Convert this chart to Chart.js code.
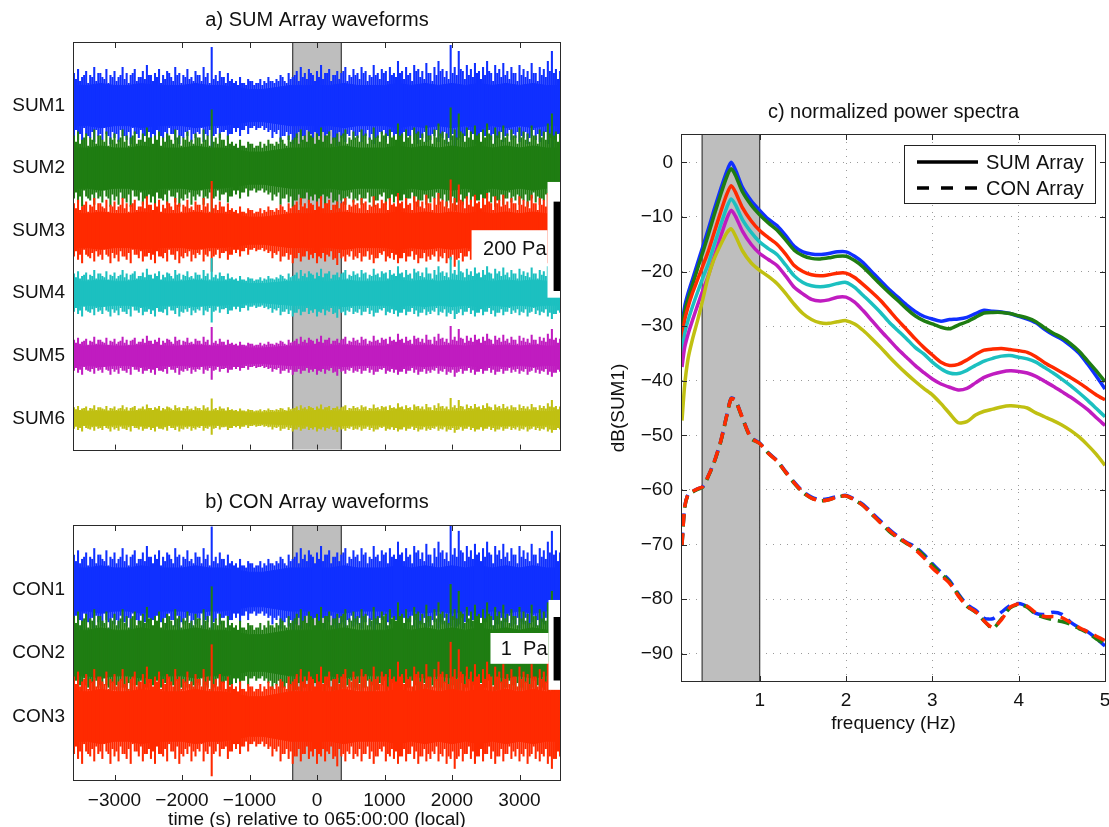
<!DOCTYPE html>
<html><head><meta charset="utf-8">
<script src="https://cdn.jsdelivr.net/npm/chart.js@4.4.0/dist/chart.umd.min.js"></script>
<style>
html,body{margin:0;padding:0;background:#fff;width:1109px;height:827px;overflow:hidden;}
canvas{position:absolute;display:block;}
#ca{left:0;top:0;} #cb{left:0;top:470px;} #cc{left:600px;top:90px;}
</style></head><body>
<canvas id="ca" width="575" height="470"></canvas>
<canvas id="cb" width="575" height="357"></canvas>
<canvas id="cc" width="509" height="655"></canvas>
<script>
// ---------------- DATA ----------------
const timeTicks = [-3000, -2000, -1000, 0, 1000, 2000, 3000];
const bandTime = [-360, 360];
const sumNames = ['SUM1', 'SUM2', 'SUM3', 'SUM4', 'SUM5', 'SUM6'];
const sumOffsets = [0, -140, -280, -420, -560, -700];      // Pa, trace baselines
const sumCoreAmp = [45, 45, 38, 27, 22, 15];               // Pa, half-width of dense band
const conNames = ['CON1', 'CON2', 'CON3'];
const conOffsets = [0, -1, -2];                            // Pa
const conCoreAmp = [0.34, 0.36, 0.39];                     // Pa
// envelope of the dense band (tenths of core amplitude), every 200 s from -3600 s
const coreTime = [-3600,-3400,-3200,-3000,-2800,-2600,-2400,-2200,-2000,-1800,-1600,-1400,-1200,-1000,-800,-600,-400,-200,0,200,400,600,800,1000,1200,1400,1600,1800,2000,2200,2400,2600,2800,3000,3200,3400,3600];
const coreShape = [10,10,11,10,10,11,10,10,10,11,10,10,9,8,8,9,10,10,10,10,11,10,10,10,11,10,11,10,11,10,11,10,11,10,11,10,10];
// peak excursions (tenths of core amplitude), every 60 s from -3600 s
const peakUp = [16,18,14,17,15,19,16,14,18,15, 17,14,19,16,15,18,14,17,20,15, 16,18,15,17,14,19,16,15,18,14,
  17,15,19,16,29,15,17,14,16,13, 12,14,11,13,12,11,13,12,14,12, 13,15,12,16,14,17,19,16,18,15,
  17,20,16,18,15,17,16,19,15,18, 16,19,17,15,20,16,18,17,19,16, 22,17,19,16,20,18,17,21,16,19,
  22,18,17,30,19,27,17,20,18,21, 17,19,22,16,20,18,21,17,19,16, 20,18,17,21,16,19,18,22,27,18,17];
const peakDown = [15,17,19,14,16,18,15,17,14,19, 16,18,15,17,19,14,16,18,15,17, 19,15,16,18,14,17,19,16,15,18,
  16,14,18,15,24,14,16,13,17,14, 13,15,12,14,11,12,11,12,13,16, 14,18,15,17,19,16,18,15,17,16,
  19,16,18,15,17,20,16,18,15,17, 16,18,15,17,19,16,14,18,16,17, 19,16,18,15,17,19,16,18,17,15,
  18,16,19,17,21,16,18,15,17,19, 16,18,15,17,19,16,18,15,17,16, 18,16,19,15,17,18,16,19,21,17,16];
// secondary (smaller) excursions, every 60 s from -3570 s
const peakUp2 = [13,12,15,11,14,12,16,13,11,14, 12,15,13,11,16,12,14,13,15,12, 14,11,13,16,12,15,11,14,13,12,
  15,12,14,11,13,12,14,11,12,11, 10,11,10,12,10,11,10,11,12,11, 12,14,11,13,15,12,14,13,16,12,
  14,13,16,12,15,13,17,12,14,15, 13,16,12,14,15,13,16,12,15,14, 16,13,15,12,17,14,13,16,12,15,
  17,14,13,16,15,18,13,15,14,16, 13,15,17,12,16,14,15,13,16,12, 15,14,13,16,12,15,14,17,16,13];
const peakDown2 = [12,14,11,15,13,12,14,11,15,13, 14,12,15,13,11,14,12,15,13,14, 12,15,13,11,14,12,15,13,12,14,
  13,11,14,12,15,11,13,12,14,11, 11,12,10,11,10,11,10,11,12,13, 12,15,13,14,16,13,15,12,14,13,
  15,13,14,12,16,13,15,14,12,15, 13,15,12,14,16,13,12,15,13,14, 16,13,15,12,14,16,13,15,14,12,
  15,13,16,14,17,13,15,12,14,16, 13,15,12,14,16,13,15,12,14,13, 15,13,16,12,14,15,13,16,17,14];
const peakTime = Array.from({length: peakUp.length}, (_, i) => -3600 + 60 * i);
const peakTime2 = Array.from({length: peakUp2.length}, (_, i) => -3570 + 60 * i);

// spectra
const freqTicks = [1, 2, 3, 4, 5];
const dbTicks = [-90, -80, -70, -60, -50, -40, -30, -20, -10, 0];
const bandFreq = [0.333, 1.0];
const freq = [0.1,0.13,0.17,0.22,0.28,0.34,0.4,0.47,0.55,0.62,0.67,0.72,0.8,0.9,1.0,1.1,1.2,1.3,1.4,1.5,1.6,1.7,1.8,1.9,2.0,2.1,2.2,2.3,2.4,2.5,2.6,2.7,2.8,2.9,3.0,3.1,3.2,3.3,3.4,3.5,3.6,3.7,3.8,3.9,4.0,4.1,4.2,4.3,4.4,4.5,4.6,4.7,4.8,4.9,5.0];
const sum1dB = [-30,-26.5,-24,-21.5,-18.5,-15.5,-12.5,-8.8,-4.8,-1.6,0,-1.4,-4.6,-7,-8.8,-10.4,-11.6,-13.4,-15.4,-16.4,-16.8,-16.9,-16.7,-16.4,-16.4,-17.2,-18.4,-20.1,-21.7,-23.3,-24.7,-26.1,-27.3,-28.2,-28.7,-29.1,-28.8,-28.7,-28.4,-27.7,-27.1,-27.3,-27.4,-27.7,-28.2,-28.7,-29.4,-30.6,-31.6,-32.4,-33.6,-35,-37,-39.2,-41.5];
const sum2dB = [-31,-27.5,-25,-22.5,-19.5,-16.5,-13.5,-9.8,-5.8,-2.6,-1.2,-2.4,-5.4,-7.8,-9.6,-11.1,-12.4,-14.2,-16.1,-17.1,-17.6,-17.7,-17.5,-17.2,-17.2,-18,-19.2,-20.8,-22.4,-23.9,-25.3,-26.8,-28.1,-29,-29.6,-30.2,-30.5,-29.8,-29.2,-28.4,-27.6,-27.5,-27.5,-27.7,-28.1,-28.5,-29.2,-30.3,-31.3,-32.1,-33.2,-34.6,-36.4,-38.2,-40.2];
const sum3dB = [-32.5,-29,-26.5,-24,-21.5,-19,-16.5,-13,-9,-5.8,-4.3,-5.5,-8.3,-10.7,-12.5,-13.8,-15,-16.8,-18.9,-20,-20.6,-20.8,-20.6,-20.3,-20.3,-21.1,-22.4,-23.8,-25.3,-27.1,-28.9,-30.6,-32.3,-33.9,-35.3,-36.6,-37.2,-37,-36.2,-35.2,-34.4,-34.2,-34.1,-34.3,-34.5,-34.8,-35.6,-36.7,-37.6,-38.5,-39.4,-40.4,-41.5,-42.6,-43.5];
const sum4dB = [-35,-31.5,-29,-26.5,-23.8,-21.2,-18.8,-15.3,-11.4,-8.2,-6.7,-7.8,-10.5,-12.8,-14.6,-15.8,-16.9,-18.8,-20.8,-22,-22.6,-22.8,-22.6,-22.2,-22,-22.9,-24.4,-25.9,-27.5,-29.3,-30.8,-32.3,-33.9,-35.1,-36.6,-37.8,-38.6,-38.7,-38.1,-37.2,-36.4,-35.9,-35.5,-35.4,-35.7,-36,-36.6,-37.6,-38.6,-39.7,-40.9,-42.2,-43.6,-45.1,-46.6];
const sum5dB = [-37.5,-34,-31.5,-29,-26.2,-23.5,-21,-17.5,-13.5,-10.3,-8.8,-9.9,-12.6,-15,-16.7,-17.8,-18.9,-20.8,-22.9,-24.1,-25.1,-25.4,-25.2,-24.7,-24.7,-25.6,-27.2,-29,-30.8,-32.5,-34.2,-35.7,-37.2,-38.5,-39.7,-40.6,-41.2,-41.7,-41.4,-40.4,-39.4,-38.8,-38.4,-38.2,-38.3,-38.6,-39.2,-40.1,-41,-42,-43,-44.1,-45.3,-46.8,-48.2];
const sum6dB = [-47.3,-41,-36,-32.5,-29,-25.2,-21.2,-17.8,-15,-12.9,-12.2,-13.5,-16.2,-18.4,-19.8,-20.9,-22.2,-24,-26,-27.7,-28.8,-29.4,-29.5,-29.2,-29,-29.6,-30.8,-32.3,-33.9,-35.6,-37.2,-38.7,-40.1,-41.4,-42.6,-44.2,-46,-47.7,-47.5,-46.3,-45.6,-45.2,-44.8,-44.6,-44.7,-45,-45.9,-46.6,-47.3,-48.1,-49.1,-50.3,-51.8,-53.5,-55.5];
const con1dB = [-70,-63.2,-60.8,-60.3,-59.8,-59.4,-57.6,-55,-51,-46.2,-43.2,-43.6,-46.8,-50.4,-51.4,-53.2,-54.6,-56.6,-58.6,-60.3,-61.3,-61.8,-61.6,-61.2,-61,-61.7,-62.7,-64.2,-65.7,-67.2,-68.5,-69.6,-70.4,-71.8,-73.5,-75.1,-76.6,-79,-81,-82,-83.5,-83.6,-82.4,-81.2,-80.8,-81.4,-82.6,-82.8,-82.4,-82.8,-84.2,-85.2,-86,-87.2,-88.6];
const con2dB = [-70.2,-63.4,-60.9,-60.4,-59.9,-59.5,-57.7,-55.1,-51.1,-46.3,-43.3,-43.7,-46.9,-50.6,-51.5,-53.3,-54.7,-56.8,-58.8,-60.5,-61.5,-62,-61.8,-61.3,-61.1,-61.9,-62.9,-64.5,-66,-67.6,-68.8,-69.8,-70.6,-72,-73.8,-75.3,-76.9,-79.2,-81.3,-82.4,-84,-85.4,-83.6,-81.6,-81,-81.5,-82.8,-83.4,-83.8,-84.1,-84.6,-85.4,-86.2,-87.3,-88.2];
const con3dB = [-70.1,-63.3,-60.8,-60.3,-59.8,-59.4,-57.6,-55,-51,-46.3,-43.3,-43.7,-46.8,-50.5,-51.5,-53.3,-54.7,-56.7,-58.7,-60.4,-61.5,-62,-61.8,-61.3,-61.1,-61.8,-62.9,-64.4,-66,-67.4,-68.7,-69.7,-70.9,-72.4,-74.3,-75.7,-77.1,-79.4,-81.3,-82.3,-84,-85.2,-83.8,-81.5,-80.9,-81.3,-82.5,-83.2,-83.2,-83.4,-84.3,-85.2,-86,-86.8,-87.6];

// ---------------- STYLE ----------------
const FONT = '"Liberation Sans", Arial, Helvetica, sans-serif';
Chart.defaults.font.family = FONT;
Chart.defaults.color = '#111';
Chart.defaults.animation = false;
const C = {blue:'#1030ff', green:'#1f7d12', red:'#ff2a00', cyan:'#1cc0c0', magenta:'#c01cc0', yellow:'#c0c012'};
const sumColors = [C.blue, C.green, C.red, C.cyan, C.magenta, C.yellow];
const conColors = [C.blue, C.green, C.red];
const minus = v => (v < 0 ? '\u2212' + Math.abs(v) : String(v));
const noSidePad = s => { s.paddingLeft = 0; s.paddingRight = 0; };

// plugin: shaded window, white boxes, scale bars, legend, MATLAB frame with inward ticks
const matlab = {
  id: 'matlab',
  beforeDatasetsDraw(chart, args, o) {
    if (!o.band) return;
    const {ctx, chartArea: a, scales: {x}} = chart;
    const x0 = x.getPixelForValue(o.band[0]), x1 = x.getPixelForValue(o.band[1]);
    ctx.save();
    ctx.fillStyle = '#bebebe';
    ctx.fillRect(x0, a.top, x1 - x0, a.bottom - a.top);
    ctx.strokeStyle = '#3c3c3c'; ctx.lineWidth = 1.2;
    ctx.beginPath();
    ctx.moveTo(x0, a.top); ctx.lineTo(x0, a.bottom);
    ctx.moveTo(x1, a.top); ctx.lineTo(x1, a.bottom);
    ctx.stroke();
    ctx.restore();
  },
  afterDatasetsDraw(chart, args, o) {
    const {ctx, chartArea: a, scales: {x, y}} = chart;
    ctx.save();
    (o.boxes || []).forEach(b => {
      const x0 = x.getPixelForValue(b.t[0]), x1 = x.getPixelForValue(b.t[1]);
      const y0 = y.getPixelForValue(b.v[0]), y1 = y.getPixelForValue(b.v[1]);
      const L = Math.min(x0, x1), T = Math.min(y0, y1);
      ctx.fillStyle = b.color;
      ctx.fillRect(L, T, Math.abs(x1 - x0), Math.abs(y1 - y0));
      if (b.text) {
        ctx.fillStyle = '#111';
        ctx.font = '20px ' + FONT;
        ctx.textAlign = 'right'; ctx.textBaseline = 'middle';
        ctx.fillText(b.text, Math.max(x0, x1) - 1, T + Math.abs(y1 - y0) / 2 + 1);
      }
    });
    if (o.legend) {
      const L = a.right - 201, T = a.top + 10, W = 191, H = 58;
      ctx.fillStyle = '#fff'; ctx.fillRect(L, T, W, H);
      ctx.strokeStyle = '#222'; ctx.lineWidth = 1; ctx.strokeRect(L + 0.5, T + 0.5, W, H);
      o.legend.forEach((it, i) => {
        const yy = T + 17 + i * 26;
        ctx.strokeStyle = '#000'; ctx.lineWidth = 3.5;
        ctx.setLineDash(it.dash);
        ctx.beginPath(); ctx.moveTo(L + 13, yy); ctx.lineTo(L + 74, yy); ctx.stroke();
        ctx.setLineDash([]);
        ctx.fillStyle = '#111'; ctx.font = '20px ' + FONT;
        ctx.textAlign = 'left'; ctx.textBaseline = 'middle';
        ctx.fillText(it.text, L + 82, yy + 1);
      });
    }
    ctx.restore();
  },
  afterDraw(chart, args, o) {
    const {ctx, chartArea: a, scales: {x, y}} = chart;
    ctx.save();
    ctx.strokeStyle = '#2a2a2a'; ctx.lineWidth = 1;
    ctx.strokeRect(Math.round(a.left) - 0.5, Math.round(a.top) - 0.5, Math.round(a.right - a.left) + 1, Math.round(a.bottom - a.top) + 1);
    ctx.beginPath();
    (o.xt || []).forEach(v => {
      const px = Math.round(x.getPixelForValue(v)) + 0.5;
      ctx.moveTo(px, a.top); ctx.lineTo(px, a.top + 5);
      ctx.moveTo(px, a.bottom); ctx.lineTo(px, a.bottom - 5);
    });
    (o.yt || []).forEach(v => {
      const py = Math.round(y.getPixelForValue(v)) + 0.5;
      ctx.moveTo(a.left, py); ctx.lineTo(a.left + 5, py);
      ctx.moveTo(a.right, py); ctx.lineTo(a.right - 5, py);
    });
    ctx.stroke();
    ctx.restore();
  }
};

function traceDatasets(offsets, amps, colors) {
  const ds = [];
  offsets.forEach((c, k) => {
    const A = amps[k], col = colors[k], ord = 100 - 10 * k;
    ds.push({type: 'bar', grouped: false, barThickness: 1.4, backgroundColor: col, borderWidth: 0, order: ord,
      data: peakTime.map((t, i) => ({x: t, y: [c - A * peakDown[i] / 10, c + A * peakUp[i] / 10]}))});
    ds.push({type: 'bar', grouped: false, barThickness: 1.4, backgroundColor: col, borderWidth: 0, order: ord,
      data: peakTime2.map((t, i) => ({x: t, y: [c - A * peakDown2[i] / 10, c + A * peakUp2[i] / 10]}))});
    ds.push({type: 'line', borderColor: col, backgroundColor: col, borderWidth: 1, pointRadius: 0, fill: '+1', order: ord,
      data: coreTime.map((t, i) => ({x: t, y: c + A * coreShape[i] / 10}))});
    ds.push({type: 'line', borderColor: col, backgroundColor: col, borderWidth: 1, pointRadius: 0, fill: false, order: ord,
      data: coreTime.map((t, i) => ({x: t, y: c - A * coreShape[i] / 10}))});
  });
  return ds;
}

function waveChart(id, titleText, titlePad, names, offsets, amps, colors, yMin, yMax, showX, boxes) {
  return new Chart(document.getElementById(id), {
    type: 'line',
    data: {datasets: traceDatasets(offsets, amps, colors)},
    plugins: [matlab],
    options: {
      responsive: false, animation: false, events: [],
      layout: {padding: {left: 0, right: 15, top: 0, bottom: showX ? 0 : 17}},
      plugins: {
        legend: {display: false}, tooltip: {enabled: false},
        title: {display: true, text: titleText, fullSize: false, color: '#111',
          font: {size: 20, weight: 'normal', lineHeight: 1.2}, padding: titlePad},
        matlab: {band: bandTime, xt: timeTicks, boxes: boxes}
      },
      scales: {
        x: {type: 'linear', min: -3600, max: 3600, offset: false,
          afterBuildTicks: s => { s.ticks = timeTicks.map(v => ({value: v})); },
          afterFit: s => { s.height = showX ? 47 : 0; noSidePad(s); },
          grid: {display: false, drawTicks: false}, border: {display: false},
          ticks: {display: showX, autoSkip: false, maxRotation: 0, padding: 9, font: {size: 19}, color: '#111', callback: v => minus(v)},
          title: {display: showX, text: 'time (s) relative to 065:00:00 (local)', font: {size: 19, lineHeight: 1}, color: '#111', padding: {top: 0, bottom: -2}}
        },
        y: {type: 'linear', min: yMin, max: yMax,
          afterBuildTicks: s => { s.ticks = offsets.map(v => ({value: v})); },
          afterFit: s => { s.width = 74; },
          grid: {display: false, drawTicks: false}, border: {display: false},
          ticks: {autoSkip: false, padding: 9, font: {size: 19}, color: '#111', callback: v => names[offsets.indexOf(v)]}
        }
      }
    }
  });
}

waveChart('ca', 'a) SUM Array waveforms', {top: 8, bottom: 11}, sumNames, sumOffsets, sumCoreAmp, sumColors, -770, 140, false, [
  {t: [3415, 3600], v: [-171, -430], color: '#fff'},
  {t: [2290, 3415], v: [-279, -359], color: '#fff', text: '200 Pa'},
  {t: [3505, 3600], v: [-215, -415], color: '#000'}
]);
waveChart('cb', 'b) CON Array waveforms', {top: 20, bottom: 12}, conNames, conOffsets, conCoreAmp, conColors, -3, 1, true, [
  {t: [3430, 3600], v: [-0.165, -1.58], color: '#fff'},
  {t: [2570, 3430], v: [-0.685, -1.17], color: '#fff', text: '1  Pa'},
  {t: [3505, 3600], v: [-0.433, -1.433], color: '#000'}
]);

// ---------------- SPECTRA ----------------
const spectra = [
  {v: sum1dB, c: C.blue, dash: []}, {v: sum2dB, c: C.green, dash: []}, {v: sum3dB, c: C.red, dash: []},
  {v: sum4dB, c: C.cyan, dash: []}, {v: sum5dB, c: C.magenta, dash: []}, {v: sum6dB, c: C.yellow, dash: []},
  {v: con1dB, c: C.blue, dash: [12, 7]}, {v: con2dB, c: C.green, dash: [12, 7]}, {v: con3dB, c: C.red, dash: [12, 7]}
];
new Chart(document.getElementById('cc'), {
  type: 'line',
  data: {datasets: spectra.map((s, i) => ({
    data: freq.map((f, j) => ({x: f, y: s.v[j]})),
    borderColor: s.c, borderWidth: 3.5, borderDash: s.dash, pointRadius: 0, tension: 0.25, fill: false,
    order: 50 - i, borderCapStyle: 'butt', borderJoinStyle: 'round'
  }))},
  plugins: [matlab],
  options: {
    responsive: false, animation: false, events: [],
    layout: {padding: {left: 0, right: 4, top: 0, bottom: 0}},
    plugins: {
      legend: {display: false}, tooltip: {enabled: false},
      title: {display: true, text: 'c) normalized power spectra', fullSize: false, color: '#111',
        font: {size: 20, weight: 'normal', lineHeight: 1.2}, padding: {top: 10, bottom: 11}},
      matlab: {band: bandFreq, xt: freqTicks, yt: dbTicks,
        legend: [{text: 'SUM Array', dash: []}, {text: 'CON Array', dash: [12, 12]}]}
    },
    scales: {
      x: {type: 'linear', min: 0.1, max: 5, offset: false,
        afterBuildTicks: s => { s.ticks = freqTicks.map(v => ({value: v})); },
        afterFit: s => { s.height = 64; noSidePad(s); },
        grid: {display: true, drawTicks: false, color: '#9a9a9a', lineWidth: 1},
        border: {display: false, dash: [1, 6]},
        ticks: {autoSkip: false, maxRotation: 0, padding: 8, font: {size: 19}, color: '#111'},
        title: {display: true, text: 'frequency (Hz)', font: {size: 19, lineHeight: 1}, color: '#111', padding: {top: 0, bottom: 12}}
      },
      y: {type: 'linear', min: -95, max: 5,
        afterBuildTicks: s => { s.ticks = dbTicks.map(v => ({value: v})); },
        afterFit: s => { s.width = 82; s.paddingTop = 0; s.paddingBottom = 0; },
        grid: {display: true, drawTicks: false, color: '#9a9a9a', lineWidth: 1},
        border: {display: false, dash: [1, 6]},
        ticks: {autoSkip: false, padding: 9, font: {size: 19}, color: '#111', callback: v => minus(v)},
        title: {display: true, text: 'dB(SUM1)', font: {size: 19, lineHeight: 1}, color: '#111', padding: {top: 9, bottom: 0}}
      }
    }
  }
});
</script>
</body></html>
